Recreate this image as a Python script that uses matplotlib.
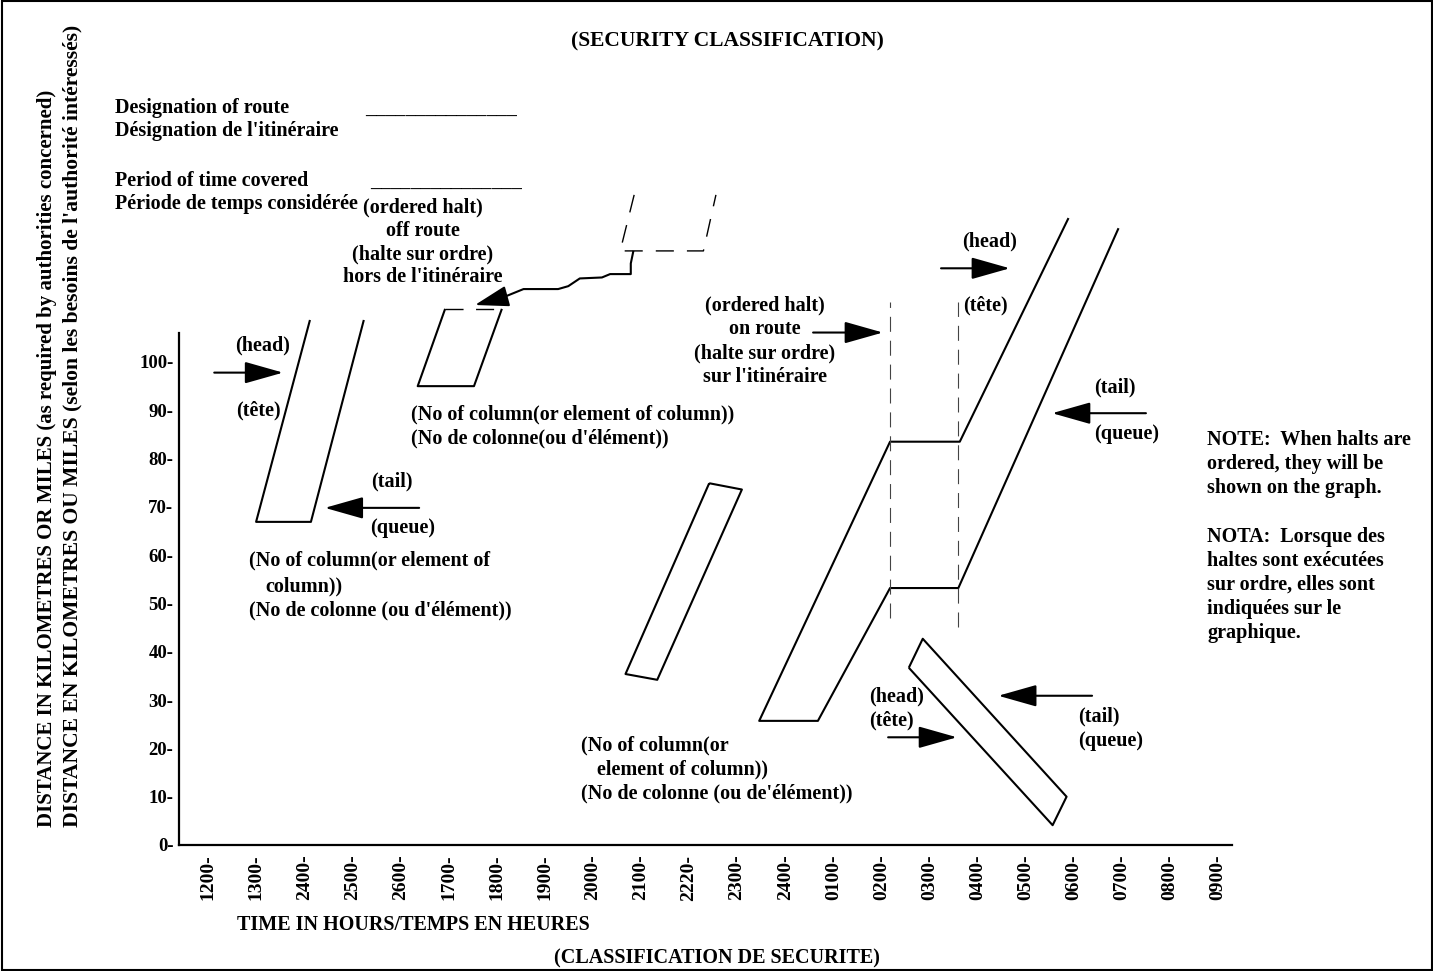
import matplotlib
matplotlib.use("Agg")
import matplotlib.pyplot as plt
from matplotlib.patches import Rectangle

plt.rcParams['font.family'] = ['Liberation Serif', 'DejaVu Serif']
plt.rcParams['font.weight'] = 'bold'

# ---------------- data (x = position on the time axis, y = distance) ----------
time_labels = ['1200', '1300', '2400', '2500', '2600', '1700', '1800', '1900',
               '2000', '2100', '2220', '2300', '2400', '0100', '0200', '0300',
               '0400', '0500', '0600', '0700', '0800', '0900']
km_ticks = [0, 10, 20, 30, 40, 50, 60, 70, 80, 90, 100]

# column 1 (head line, bottom, tail line)
col1_t = [2.12, 1.00, 2.14, 3.24]
col1_km = [108.7, 66.9, 66.9, 108.7]
# column 2 (left for ordered halt off route)
col2_t = [4.93, 4.36, 5.53, 6.11]
col2_km = [111.0, 95.0, 95.0, 111.0]
col2_top_t = [4.93, 6.11]
col2_top_km = [111.0, 111.0]
# off-route halt area (dashed)
halt_area_t = [8.86, 8.57, 10.30, 10.56]
halt_area_km = [134.6, 123.0, 123.0, 134.6]
# route from halt area back to column 2
offroute_t = [8.84, 8.79, 8.79, 8.36, 8.19, 7.73, 7.49, 7.28, 6.56, 6.14]
offroute_km = [122.8, 120.4, 118.2, 118.2, 117.5, 117.3, 115.7, 115.1, 115.1, 113.4]
offroute_tip_t = 5.55
offroute_tip_km = 111.8
# column 3
col3_t = [10.42, 8.68, 9.34, 11.10, 10.42]
col3_km = [74.9, 35.4, 34.2, 73.6, 74.9]
# column 4 with ordered halt on route
col4_t = [17.89, 15.63, 14.18, 11.46, 12.68, 14.18, 15.60, 18.93]
col4_km = [129.8, 83.5, 83.5, 25.7, 25.7, 53.2, 53.2, 127.7]
halt_lines_t = [14.18, 15.59]
halt_lines_km_low = [47.0, 45.2]
halt_lines_km_high = [112.5, 112.5]
# column 5 (moving in opposite direction)
col5_t = [14.57, 14.86, 17.85, 17.56, 14.57]
col5_km = [36.7, 42.7, 10.0, 4.1, 36.7]
# head / tail pointer arrows: start, end, distance
arrow_t0 = [0.13, 4.39, 12.58, 15.24, 19.50, 14.14, 18.38]
arrow_t1 = [1.56, 2.43, 14.03, 16.67, 17.55, 15.57, 16.43]
arrow_km = [97.8, 69.8, 106.1, 119.4, 89.4, 22.3, 30.9]

# ---------------- figure -----------------------------------------------------
W, H = 1433, 971
fig = plt.figure(figsize=(W / 100, H / 100), dpi=100)
ax = fig.add_axes([0, 0, 1, 1])
ax.set_xlim(-4.324, 25.468)
ax.set_ylim(-26.087, 174.948)

for s in ['top', 'right']:
    ax.spines[s].set_visible(False)
ax.spines['left'].set_position(('data', -0.603))
ax.spines['left'].set_bounds(0, 106.0)
ax.spines['bottom'].set_position(('data', 0))
ax.spines['bottom'].set_bounds(-0.603, 21.29)
for s in ['left', 'bottom']:
    ax.spines[s].set_linewidth(1.6)

ax.set_xticks(range(len(time_labels)))
ax.set_xticklabels([t + '-' for t in time_labels], rotation=90,
                   fontsize=14, fontweight='bold')
ax.set_yticks(km_ticks)
ax.set_yticklabels([f'{v}-' for v in km_ticks], fontsize=13.5, fontweight='bold')
ax.tick_params(axis='x', length=0, pad=7)
ax.tick_params(axis='y', length=0, pad=4)

LW = 1.5
line_kw = dict(color='black', lw=LW, solid_capstyle='butt')
ax.plot(col1_t, col1_km, **line_kw)
ax.plot(col2_t, col2_km, **line_kw)
ax.plot(col2_top_t, col2_top_km, color='black', lw=1.0, dashes=(13, 9))
ax.plot(halt_area_t, halt_area_km, color='black', lw=1.0, dashes=(13, 9.4))
ax.plot(offroute_t, offroute_km, color='black', lw=LW)
ax.annotate('', xy=(offroute_tip_t, offroute_tip_km),
            xytext=(offroute_t[-1], offroute_km[-1]),
            arrowprops=dict(arrowstyle='-|>,head_length=2.1,head_width=0.65',
                            mutation_scale=10, lw=LW, color='black',
                            shrinkA=0, shrinkB=0))
ax.plot(col3_t, col3_km, **line_kw)
ax.plot(col4_t, col4_km, **line_kw)
for t, lo, hi in zip(halt_lines_t, halt_lines_km_low, halt_lines_km_high):
    ax.plot([t, t], [lo, hi], color='#444444', lw=0.8, dashes=(13.5, 8))
ax.plot(col5_t, col5_km, **line_kw)

for t0, t1, km in zip(arrow_t0, arrow_t1, arrow_km):
    ax.annotate('', xy=(t1, km), xytext=(t0, km),
                arrowprops=dict(arrowstyle='-|>,head_length=2.4,head_width=0.68',
                                mutation_scale=10, lw=LW, color='black',
                                shrinkA=0, shrinkB=0))

# ---------------- text --------------------------------------------------------
FS = 14.5


def T(x, y, s, ha='left', size=FS, va='center', **kw):
    fig.text(x / W, 1 - y / H, s, ha=ha, va=va, fontsize=size,
             fontweight='bold', **kw)


T(727, 41, '(SECURITY CLASSIFICATION)', ha='center', size=15.5)
T(717, 958, '(CLASSIFICATION DE SECURITE)', ha='center')
T(237, 925, 'TIME IN HOURS/TEMPS EN HEURES')

T(47, 827, 'DISTANCE IN KILOMETRES OR MILES (as required by authorities concerned)',
  rotation=90, rotation_mode='anchor', size=15)
T(72, 827, "DISTANCE EN KILOMETRES OU MILES (selon les besoins de l'authorité intéressés)",
  rotation=90, rotation_mode='anchor', size=15.6)

T(115, 108, 'Designation of route')
T(115, 131, "Désignation de l'itinéraire")
T(365, 113.5, '_______________', va='baseline')
T(115, 181, 'Period of time covered')
T(115, 204, 'Période de temps considérée')
T(370, 186.5, '_______________', va='baseline')

for y, s in zip([207, 231, 254, 277],
                ['(ordered halt)', 'off route', '(halte sur ordre)',
                 "hors de l'itinéraire"]):
    T(423, y, s, ha='center')

T(263, 345, '(head)', ha='center')
T(258, 410, '(tête)', ha='center')
T(392, 481, '(tail)', ha='center')
T(403, 528, '(queue)', ha='center')
T(249, 560, '(No of column(or element of')
T(265, 586, 'column))')
T(249, 610, "(No de colonne (ou d'élément))")

T(411, 414, '(No of column(or element of column))')
T(411, 438, "(No de colonne(ou d'élément))")

for y, s in zip([305, 329, 353, 377],
                ['(ordered halt)', 'on route', '(halte sur ordre)',
                 "sur l'itinéraire"]):
    T(765, y, s, ha='center')

T(990, 241, '(head)', ha='center')
T(985, 305, '(tête)', ha='center')
T(1115, 387, '(tail)', ha='center')
T(1127, 434, '(queue)', ha='center')

T(581, 745, '(No of column(or')
T(597, 769, 'element of column))')
T(581, 793, "(No de colonne (ou de'élément))")

T(869, 696, '(head)')
T(869, 720, '(tête)')
T(1078, 716, '(tail)')
T(1078, 741, '(queue)')

note_lines = ['NOTE:  When halts are', 'ordered, they will be', 'shown on the graph.',
              'NOTA:  Lorsque des', 'haltes sont exécutées', 'sur ordre, elles sont',
              'indiquées sur le', 'graphique.']
note_y = [440, 464, 488, 537, 561, 585, 609, 633]
for y, s in zip(note_y, note_lines):
    T(1207, y, s)

fig.patches.append(Rectangle((1.5 / W, 1.5 / H), (W - 3) / W, (H - 3) / H,
                             transform=fig.transFigure, fill=False,
                             edgecolor='black', lw=1.5))

fig.savefig('out.png', dpi=100)
